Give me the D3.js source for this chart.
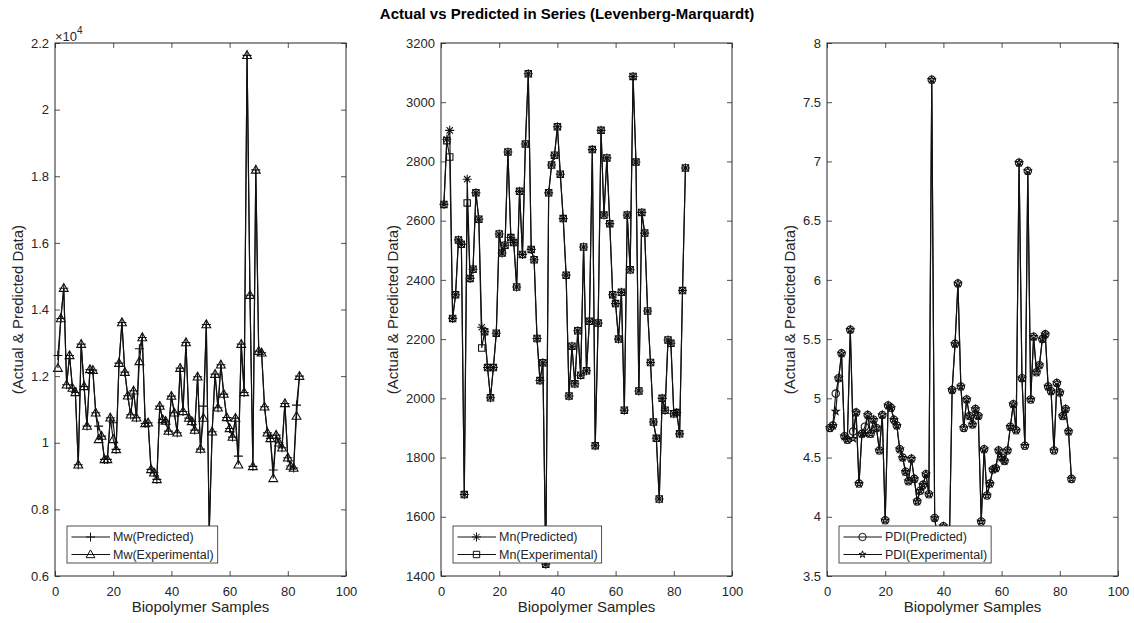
<!DOCTYPE html>
<html>
<head>
<meta charset="utf-8">
<script src="https://cdn.jsdelivr.net/npm/d3@7"></script>
<style>
  body { margin: 0; background: #fff; }
  text { font-family: "Liberation Sans", Arial, sans-serif; fill: #262626; }
</style>
</head>
<body>
<svg id="chart" width="1134" height="623"></svg>
<script>
// ---- data (sample 1..84) ----
var mwPredicted = [12620,13730,14640,11740,12620,11640,11510,9340,12960,11690,10500,12200,12180,10900,10500,10200,9500,9500,10750,10600,
  9800,12390,13610,12120,11410,10840,11560,10750,12820,13160,10580,10600,9200,9100,8900,11100,10700,10650,10350,11400,
  10900,10300,12240,10940,13010,10740,10640,10380,11980,9810,11100,13550,7300,10330,12060,11050,12340,11460,10760,10430,
  10170,10740,9600,12960,11510,21630,14430,9290,18190,12750,12700,11080,10300,10130,9180,10230,10000,9850,11180,9550,
  9300,9240,11130,12000];
var mwExperimental = [12240,13730,14640,11740,12620,11640,11510,9340,12960,11690,10500,12200,12180,10900,10100,10200,9500,9500,10750,10100,
  9800,12390,13610,12120,11410,10840,11560,10750,12440,13160,10580,10600,9200,9100,8900,11100,10700,10650,10350,11400,
  10900,10300,12240,10940,13010,10740,10640,10380,11980,9810,10740,13550,7300,10330,12060,11050,12340,11460,10760,10430,
  10170,10740,9340,12960,11510,21630,14430,9290,18190,12750,12700,11080,10300,10130,8930,10230,10000,9850,11180,9550,
  9300,9240,10800,12000];

var mnPredicted = [2655,2875,2905,2270,2350,2535,2520,1675,2740,2405,2436,2694,2605,2240,2225,2104,2002,2104,2220,2555,
  2491,2517,2832,2543,2526,2376,2699,2486,2859,3096,2503,2468,2202,2060,2120,1440,2694,2788,2821,2917,
  2757,2607,2416,2008,2176,2049,2228,2078,2511,2093,2260,2840,1840,2254,2905,2619,2812,2590,2350,2320,
  2200,2358,1960,2619,2434,3087,2798,2025,2628,2558,2295,2121,1920,1865,1660,2000,1960,2197,2186,1948,
  1952,1880,2364,2778];
var mnExperimental = [2655,2870,2815,2270,2350,2535,2520,1675,2660,2405,2436,2694,2605,2170,2225,2104,2002,2104,2220,2555,
  2491,2517,2832,2543,2526,2376,2699,2486,2859,3096,2503,2468,2202,2060,2120,1440,2694,2788,2821,2917,
  2757,2607,2416,2008,2176,2049,2228,2078,2511,2093,2260,2840,1840,2254,2905,2619,2812,2590,2350,2320,
  2200,2358,1960,2619,2434,3087,2798,2025,2628,2558,2295,2121,1920,1865,1660,2000,1960,2197,2186,1948,
  1952,1880,2364,2778];

var pdiPredicted = [4.75,4.77,5.04,5.17,5.38,4.68,4.65,5.58,4.72,4.88,4.28,4.70,4.76,4.86,4.70,4.82,4.75,4.56,4.86,3.97,
  4.94,4.92,4.82,4.77,4.57,4.50,4.38,4.30,4.49,4.32,4.13,4.22,4.27,4.36,4.19,7.69,3.99,3.82,3.70,3.92,
  3.80,3.70,5.07,5.46,5.97,5.10,4.75,4.99,4.85,4.78,4.91,4.85,3.96,4.57,4.18,4.28,4.40,4.41,4.56,4.50,
  4.47,4.56,4.76,4.95,4.73,6.99,5.17,4.60,6.92,4.99,5.52,5.22,5.28,5.50,5.54,5.10,5.06,4.56,5.13,5.05,
  4.85,4.91,4.72,4.32];
var pdiExperimental = [4.75,4.77,4.89,5.17,5.38,4.68,4.65,5.58,4.66,4.88,4.28,4.70,4.70,4.86,4.70,4.82,4.75,4.56,4.86,3.97,
  4.94,4.92,4.82,4.77,4.57,4.50,4.38,4.30,4.49,4.32,4.13,4.22,4.27,4.36,4.19,7.69,3.99,3.82,3.70,3.92,
  3.80,3.70,5.07,5.46,5.97,5.10,4.75,4.99,4.85,4.78,4.91,4.85,3.96,4.57,4.18,4.28,4.40,4.41,4.56,4.50,
  4.47,4.56,4.76,4.95,4.73,6.99,5.17,4.60,6.92,4.99,5.52,5.22,5.28,5.50,5.54,5.10,5.06,4.56,5.13,5.05,
  4.85,4.91,4.72,4.32];

var sampleNo = mwExperimental.map(function (d, i) { return i + 1; });

var xTicks = [0, 20, 40, 60, 80, 100];
var mwTicks = [6000, 8000, 10000, 12000, 14000, 16000, 18000, 20000, 22000];
var mnTicks = [1400, 1600, 1800, 2000, 2200, 2400, 2600, 2800, 3000, 3200];
var pdiTicks = [3.5, 4, 4.5, 5, 5.5, 6, 6.5, 7, 7.5, 8];

var titleText = "Actual vs Predicted in Series (Levenberg-Marquardt)";
var xLabel = "Biopolymer Samples";
var yLabel = "(Actual & Predicted Data)";

// ---- layout ----
var ink = "#262626";
var plotTop = 43, plotBottom = 576, plotW = 291;
var panels = [
  { left: 55, pred: mwPredicted, exp: mwExperimental, ticks: mwTicks, scaleBy: 1e4,
    markers: ["plus", "triangle"], names: ["Mw(Predicted)", "Mw(Experimental)"] },
  { left: 441, pred: mnPredicted, exp: mnExperimental, ticks: mnTicks, scaleBy: 1,
    markers: ["asterisk", "square"], names: ["Mn(Predicted)", "Mn(Experimental)"] },
  { left: 827, pred: pdiPredicted, exp: pdiExperimental, ticks: pdiTicks, scaleBy: 1,
    markers: ["circle", "pentagram"], names: ["PDI(Predicted)", "PDI(Experimental)"] }
];

var svg = d3.select("#chart");

svg.append("text")
  .attr("x", 567).attr("y", 19)
  .attr("text-anchor", "middle")
  .style("font-size", "15px").style("font-weight", "bold")
  .style("fill", "#000")
  .text(titleText);

// marker shapes, MATLAB-like, unfilled
function markerPath(type) {
  switch (type) {
    case "plus": return "M-4.5,0H4.5M0,-4.5V4.5";
    case "asterisk": return "M-4.5,0H4.5M0,-4.5V4.5M-3.2,-3.2L3.2,3.2M-3.2,3.2L3.2,-3.2";
    case "triangle": return "M0,-4.6L4.4,3.2L-4.4,3.2Z";
    case "square": return "M-3.2,-3.2H3.2V3.2H-3.2Z";
    case "circle": return d3.symbol().type(d3.symbolCircle).size(Math.PI * 3.7 * 3.7)();
    case "pentagram": return d3.symbol().type(d3.symbolStar).size(15)();
  }
}

function styleAxis(g, showLabels) {
  g.select(".domain").remove();
  g.selectAll(".tick line").attr("stroke", ink).attr("stroke-width", 0.8);
  g.selectAll(".tick text")
    .style("font-family", '"Liberation Sans", Arial, sans-serif')
    .style("font-size", "13px")
    .attr("fill", ink);
  if (!showLabels) g.selectAll(".tick text").remove();
}

panels.forEach(function (p) {
  var x = d3.scaleLinear().domain([0, 100]).range([p.left, p.left + plotW]);
  var y = d3.scaleLinear().domain(d3.extent(p.ticks)).range([plotBottom, plotTop]);
  var fmt = function (d) { return d3.format("~g")(+(d / p.scaleBy).toFixed(4)); };

  var g = svg.append("g");

  // ticks on all four sides, pointing inward
  g.append("g").attr("transform", "translate(0," + plotBottom + ")")
    .call(d3.axisBottom(x).tickValues(xTicks).tickSize(-5).tickPadding(11))
    .call(styleAxis, true);
  g.append("g").attr("transform", "translate(0," + plotTop + ")")
    .call(d3.axisTop(x).tickValues(xTicks).tickSize(-5))
    .call(styleAxis, false);
  var yAxisG = g.append("g").attr("transform", "translate(" + p.left + ",0)")
    .call(d3.axisLeft(y).tickValues(p.ticks).tickFormat(fmt).tickSize(-5).tickPadding(6))
    .call(styleAxis, true);
  g.append("g").attr("transform", "translate(" + (p.left + plotW) + ",0)")
    .call(d3.axisRight(y).tickValues(p.ticks).tickSize(-5))
    .call(styleAxis, false);

  // widest y tick label, so the y title clears it (as MATLAB does)
  var tickW = d3.max(yAxisG.selectAll(".tick text").nodes(), function (n) {
    return n.getComputedTextLength();
  });

  var line = d3.line()
    .x(function (d, i) { return x(sampleNo[i]); })
    .y(function (d) { return y(d); });

  [p.pred, p.exp].forEach(function (series, s) {
    g.append("path")
      .attr("d", line(series))
      .attr("fill", "none")
      .attr("stroke", "#111")
      .attr("stroke-width", 1.15);
    g.selectAll("path.m" + s)
      .data(series)
      .enter()
      .append("path")
      .attr("class", "m" + s)
      .attr("transform", function (d, i) { return "translate(" + x(sampleNo[i]) + "," + y(d) + ")"; })
      .attr("d", markerPath(p.markers[s]))
      .attr("fill", "none")
      .attr("stroke", "#111")
      .attr("stroke-width", 1.1);
  });

  // box
  g.append("rect")
    .attr("x", p.left).attr("y", plotTop)
    .attr("width", plotW).attr("height", plotBottom - plotTop)
    .attr("fill", "none").attr("stroke", ink).attr("stroke-width", 1);

  // axis labels
  g.append("text")
    .attr("x", p.left + plotW / 2).attr("y", 612)
    .attr("text-anchor", "middle")
    .style("font-size", "15px")
    .text(xLabel);
  g.append("text")
    .attr("transform", "translate(" + (p.left - 6 - tickW - 13) + "," + ((plotTop + plotBottom) / 2) + ") rotate(-90)")
    .attr("text-anchor", "middle")
    .attr("dy", "0.35em")
    .style("font-size", "15px")
    .text(yLabel);

  if (p.scaleBy !== 1) {
    var ex = g.append("text").attr("x", p.left).attr("y", 41).style("font-size", "13px");
    ex.append("tspan").text("\u00d710");
    ex.append("tspan").attr("dy", -7).style("font-size", "10px").text("4");
  }

  // legend, south-west corner
  var lg = g.append("g");
  var box = lg.append("rect")
    .attr("fill", "#fff").attr("stroke", ink).attr("stroke-width", 0.8);
  var maxW = 0;
  p.names.forEach(function (name, s) {
    var cy = 11 + s * 17.5;
    lg.append("line")
      .attr("x1", 4.5).attr("x2", 43).attr("y1", cy).attr("y2", cy)
      .attr("stroke", "#111").attr("stroke-width", 1.1);
    lg.append("path")
      .attr("transform", "translate(23.5," + cy + ")")
      .attr("d", markerPath(p.markers[s]))
      .attr("fill", "none").attr("stroke", "#111").attr("stroke-width", 1);
    var t = lg.append("text")
      .attr("x", 46).attr("y", cy).attr("dy", "0.35em")
      .style("font-size", "12.5px")
      .text(name);
    maxW = Math.max(maxW, t.node().getComputedTextLength());
  });
  var boxH = 37;
  box.attr("width", 46 + maxW + 4).attr("height", boxH);
  lg.attr("transform", "translate(" + (p.left + 12) + "," + (plotBottom - 13 - boxH) + ")");
});
</script>
</body>
</html>
